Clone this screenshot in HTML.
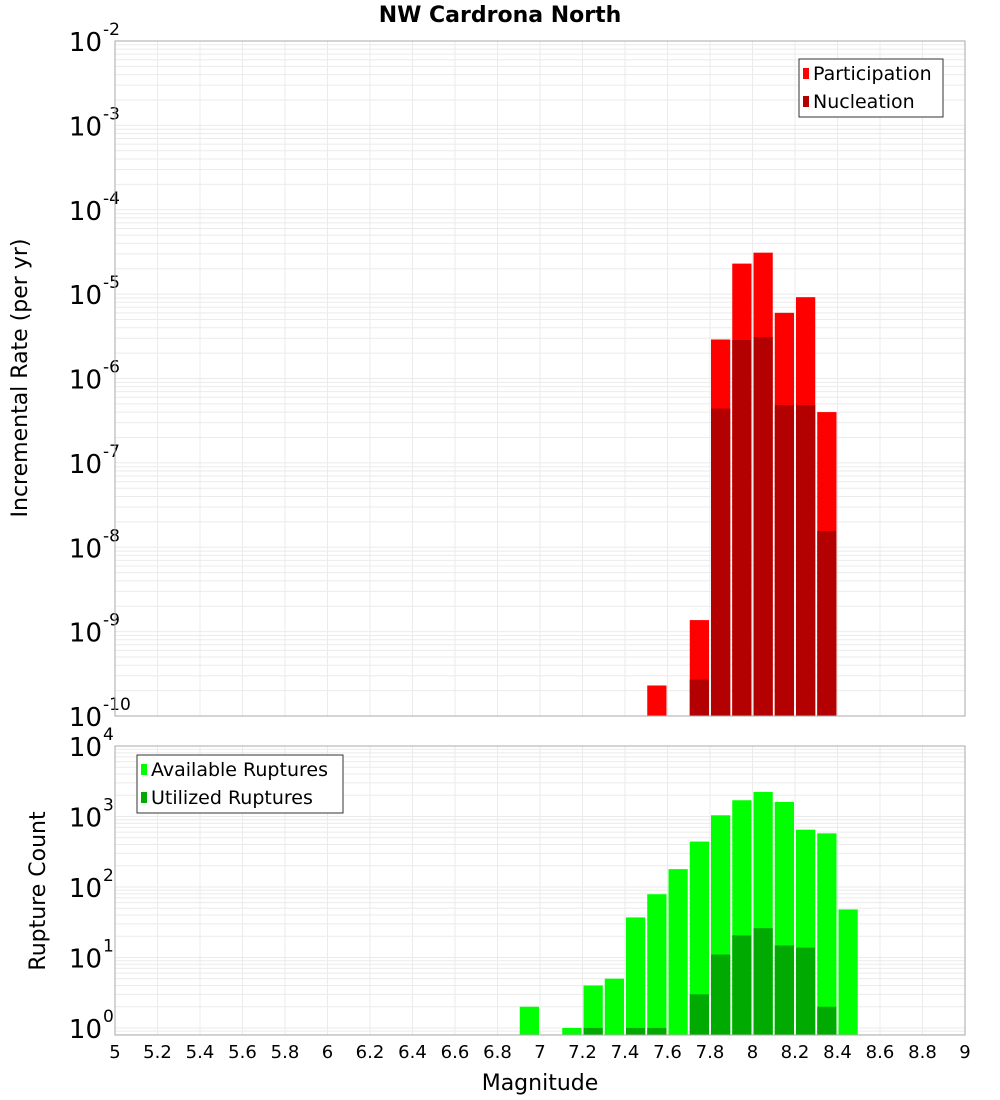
<!DOCTYPE html>
<html><head><meta charset="utf-8"><style>
body{margin:0;background:#fff;}
svg{display:block;font-family:"Liberation Sans","DejaVu Sans",sans-serif;}
</style></head><body>
<svg id="chart" width="1000" height="1100" viewBox="0 0 1000 1100" xmlns="http://www.w3.org/2000/svg">
<text x="500" y="22" text-anchor="middle" font-size="22" font-weight="bold" font-family="DejaVu Sans, sans-serif">NW Cardrona North</text>
<g id="top"></g><g id="bot"></g>
<text transform="translate(27,378) rotate(-90)" text-anchor="middle" font-size="22" font-family="DejaVu Sans, sans-serif">Incremental Rate (per yr)</text>
<text transform="translate(45,891) rotate(-90)" text-anchor="middle" font-size="22" font-family="DejaVu Sans, sans-serif">Rupture Count</text>
<text x="540" y="1090" text-anchor="middle" font-size="22" font-family="DejaVu Sans, sans-serif">Magnitude</text>
</svg>
<script>
// ---- data ----
const rateBins = [7.55, 7.75, 7.85, 7.95, 8.05, 8.15, 8.25, 8.35];
const participation = [2.3e-10, 1.37e-9, 2.9e-6, 2.3e-5, 3.1e-5, 6.0e-6, 9.2e-6, 4.0e-7];
const nucleation = [0, 2.7e-10, 4.4e-7, 2.86e-6, 3.1e-6, 4.85e-7, 4.85e-7, 1.56e-8];
const countBins = [6.95, 7.15, 7.25, 7.35, 7.45, 7.55, 7.65, 7.75, 7.85, 7.95, 8.05, 8.15, 8.25, 8.35, 8.45];
const available = [2, 1, 4, 5, 37, 79, 179, 441, 1040, 1700, 2230, 1610, 650, 576, 48];
const utilized = [0, 0, 1, 0, 1, 1, 0, 3, 11, 20.6, 26, 14.8, 13.8, 2, 0];
const xTicks = ["5","5.2","5.4","5.6","5.8","6","6.2","6.4","6.6","6.8","7","7.2","7.4","7.6","7.8","8","8.2","8.4","8.6","8.8","9"];
const topExps = [-10,-9,-8,-7,-6,-5,-4,-3,-2];
const botExps = [0,1,2,3,4];

const NS="http://www.w3.org/2000/svg";
const L=115,R=965;
const xs=m=>L+(m-5)/4*(R-L);
function mk(par,tag,attrs){const e=document.createElementNS(NS,tag);for(const k in attrs)e.setAttribute(k,attrs[k]);par.appendChild(e);return e;}

function panel(g,top,bot,lmin,lmax,exps,name){
  const ys=v=>bot-(Math.log10(v)-lmin)/(lmax-lmin)*(bot-top);
  // vertical grid
  for(let i=1;i<20;i++){const x=xs(5+i*0.2);
    const l=mk(g,'line',{x1:x,x2:x,y1:top,y2:bot,stroke:'#ebebeb','stroke-width':1});
    
    }
  for(let d=Math.floor(lmin);d<Math.ceil(lmax);d++){for(let k=1;k<10;k++){const v=k*Math.pow(10,d);const lv=Math.log10(v);if(lv<=lmin||lv>=lmax)continue;const y=ys(v);
    const l=mk(g,'line',{x1:L,x2:R,y1:y,y2:y,stroke:'#ebebeb','stroke-width':1});
    
    }}
  exps.forEach(e=>{const y=ys(Math.pow(10,e));
    const t=mk(g,'text',{x:102,y:y+10,'text-anchor':'end','font-size':26,'font-family':'DejaVu Sans, sans-serif'});
    
    
    t.textContent='10';
    const s=mk(g,'text',{x:103,y:y-6,'font-size':17,'font-family':'DejaVu Sans, sans-serif'});
    
    
    s.textContent=String(e);});
  return ys;
}
function bars(g,ys,bins,vals,color,bot,name){
  bins.forEach((m,i)=>{const v=vals[i];if(!(v>0))return;const x0=xs(m-0.05)+1,x1=xs(m+0.05)-1;const y=ys(v);
    const r=mk(g,'rect',{x:x0,y:y,width:x1-x0,height:bot-y,fill:color});
    
    });
}
function frame(g,top,bot,name){const r=mk(g,'rect',{x:L,y:top,width:R-L,height:bot-top,fill:'none',stroke:'#aaa','stroke-width':1});
  
  }
function legend(g,x,y,w,items,name){
  const b=mk(g,'rect',{x:x,y:y,width:w,height:58,fill:'#fff',stroke:'#333','stroke-width':1});
  
  
  items.forEach((it,i)=>{const yy=y+14+i*28;
    const s=mk(g,'rect',{x:x+4,y:yy-5,width:6,height:11,fill:it[1]});
    
    
    const t=mk(g,'text',{x:x+14,y:yy+7,'font-size':19,'font-family':'DejaVu Sans, sans-serif'});
    
    
    t.textContent=it[0];});
}
// top panel
const gt=document.getElementById('top');
const T0=41,T1=716;
const yt=panel(gt,T0,T1,-10,-2,topExps,'rate');
bars(gt,yt,rateBins,participation,'#ff0000',T1,'participation');
bars(gt,yt,rateBins,nucleation,'#b30000',T1,'nucleation');
frame(gt,T0,T1,'rate');
legend(gt,799,59,144,[['Participation','#ff0000'],['Nucleation','#b30000']],'rate');
// bottom panel
const gb=document.getElementById('bot');
const B0=746,B1=1035;
const yb=panel(gb,B0,B1,-0.1,4,botExps,'count');
bars(gb,yb,countBins,available,'#00ff00',B1,'available');
bars(gb,yb,countBins,utilized,'#00aa00',B1,'utilized');
frame(gb,B0,B1,'count');
legend(gb,137,755,206,[['Available Ruptures','#00ff00'],['Utilized Ruptures','#00aa00']],'count');
// x ticks
xTicks.forEach(t=>{const x=xs(parseFloat(t));
  const e=mk(gb,'text',{x:x,y:1058,'text-anchor':'middle','font-size':18,'font-family':'DejaVu Sans, sans-serif'});
  
  
  e.textContent=t;});
</script>
</body></html>
